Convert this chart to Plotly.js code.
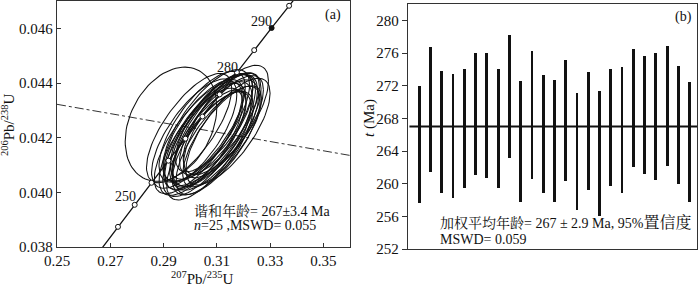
<!DOCTYPE html>
<html><head><meta charset="utf-8">
<script src="https://cdn.plot.ly/plotly-3.0.1.min.js"></script>
<style>html,body{margin:0;padding:0;background:#fff}</style>
</head><body>
<div id="chart" style="width:700px;height:287px"></div>
<script>
// ---- Panel (a): concordia data (one error ellipse per analysis) ----
const ellipseCx  = [0.2928, 0.2996, 0.3070, 0.3134, 0.3142, 0.3030, 0.3050, 0.3065, 0.3080, 0.3095, 0.3110, 0.3040, 0.3060, 0.3085, 0.3100, 0.3120, 0.3015, 0.3075, 0.3090, 0.3055, 0.3105, 0.3125, 0.3045, 0.3070, 0.3088];
const ellipseCy  = [0.04249, 0.04235, 0.04170, 0.04265, 0.04222, 0.04200, 0.04225, 0.04195, 0.04240, 0.04210, 0.04250, 0.04185, 0.04245, 0.04180, 0.04230, 0.04205, 0.04215, 0.04220, 0.04255, 0.04205, 0.04190, 0.04240, 0.04240, 0.04200, 0.04225];
const ellipseSx  = [0.0172, 0.0160, 0.0158, 0.0160, 0.0158, 0.0165, 0.0150, 0.0168, 0.0155, 0.0162, 0.0150, 0.0157, 0.0163, 0.0152, 0.0166, 0.0148, 0.0160, 0.0170, 0.0145, 0.0155, 0.0158, 0.0150, 0.0162, 0.0140, 0.0165];
const ellipseSy  = [0.00209, 0.00200, 0.00198, 0.00200, 0.00195, 0.00205, 0.00188, 0.00210, 0.00192, 0.00202, 0.00186, 0.00196, 0.00204, 0.00190, 0.00208, 0.00185, 0.00200, 0.00212, 0.00180, 0.00194, 0.00198, 0.00187, 0.00203, 0.00175, 0.00206];
const ellipseRho = [0.30, 0.72, 0.73, 0.71, 0.72, 0.74, 0.70, 0.73, 0.72, 0.71, 0.74, 0.72, 0.73, 0.70, 0.72, 0.74, 0.71, 0.73, 0.72, 0.70, 0.74, 0.72, 0.71, 0.73, 0.72];

const concordiaAges = [235, 240, 245, 250, 255, 260, 265, 270, 275, 280, 285, 290, 295, 300, 305];
const markerAges    = [245, 250, 255, 260, 265, 270, 275, 280, 285, 295];
const filledAges    = [290];
const labeledAges   = [250, 280, 290];

const discordiaX = [0.25, 0.36];
const discordiaY = [0.04322, 0.04135];

const xTicksA = [0.25, 0.27, 0.29, 0.31, 0.33, 0.35];
const yTicksA = [0.038, 0.040, 0.042, 0.044, 0.046];

// ---- Panel (b): weighted mean data ----
const spotIndex = [1,2,3,4,5,6,7,8,9,10,11,12,13,14,15,16,17,18,19,20,21,22,23,24,25];
const ageHigh = [272.0, 276.7, 273.8, 273.4, 274.0, 276.0, 276.0, 274.0, 278.2, 272.6, 276.2, 273.3, 272.7, 275.1, 271.1, 273.7, 271.3, 274.1, 274.3, 276.5, 275.6, 276.0, 276.8, 274.4, 272.5];
const ageLow  = [257.6, 261.4, 258.9, 258.2, 259.5, 261.1, 260.7, 259.5, 263.2, 257.7, 260.6, 258.9, 257.8, 260.3, 256.8, 259.2, 256.1, 259.7, 258.8, 262.0, 261.2, 260.5, 262.2, 259.9, 257.8];
const weightedMean = 267;
const yTicksB = [252, 256, 260, 264, 268, 272, 276, 280];

// ---- helpers ----
const L238 = 1.55125e-10, L235 = 9.8485e-10;
const r207 = t => Math.exp(L235 * t * 1e6) - 1;
const r206 = t => Math.exp(L238 * t * 1e6) - 1;

const FONT = "'Liberation Serif', 'Times New Roman', 'Noto Serif CJK SC', 'Noto Sans CJK SC', serif";
const INK = '#111';

// ellipse outlines
const ex = [], ey = [];
for (let k = 0; k < ellipseCx.length; k++) {
  const s = Math.sqrt(1 - ellipseRho[k] * ellipseRho[k]);
  for (let i = 0; i <= 90; i++) {
    const th = 2 * Math.PI * i / 90;
    ex.push(ellipseCx[k] + ellipseSx[k] * Math.cos(th));
    ey.push(ellipseCy[k] + ellipseSy[k] * (ellipseRho[k] * Math.cos(th) + s * Math.sin(th)));
  }
  ex.push(null); ey.push(null);
}

const traces = [
  { type: 'scatter', mode: 'lines', x: discordiaX, y: discordiaY, xaxis: 'x', yaxis: 'y',
    line: { color: '#333', width: 1, dash: 'dashdot' }, hoverinfo: 'skip' },
  { type: 'scatter', mode: 'lines', x: ex, y: ey, xaxis: 'x', yaxis: 'y',
    line: { color: INK, width: 1.05 }, hoverinfo: 'skip' },
  { type: 'scatter', mode: 'lines', x: concordiaAges.map(r207), y: concordiaAges.map(r206), xaxis: 'x', yaxis: 'y',
    line: { color: INK, width: 1.3 }, hoverinfo: 'skip' },
  { type: 'scatter', mode: 'markers', x: markerAges.map(r207), y: markerAges.map(r206), xaxis: 'x', yaxis: 'y',
    marker: { symbol: 'circle', size: 5, color: '#fff', line: { color: INK, width: 1 } }, hoverinfo: 'skip' },
  { type: 'scatter', mode: 'markers', x: filledAges.map(r207), y: filledAges.map(r206), xaxis: 'x', yaxis: 'y',
    marker: { symbol: 'circle', size: 5, color: INK, line: { color: INK, width: 1 } }, hoverinfo: 'skip' },
  { type: 'bar', x: spotIndex, y: ageHigh.map((h, i) => h - ageLow[i]), base: ageLow, xaxis: 'x2', yaxis: 'y2',
    width: 0.25, marker: { color: INK, line: { width: 0 } }, hoverinfo: 'skip' }
];

const labelOffsets = { 250: [-9, 8], 280: [-9, 5], 290: [-10, 6.5] };
const annotations = labeledAges.map(a => ({
  x: r207(a), y: r206(a), xref: 'x', yref: 'y', text: String(a), showarrow: false,
  xanchor: 'center', yanchor: 'middle', xshift: labelOffsets[a][0], yshift: labelOffsets[a][1],
  font: { family: FONT, size: 14, color: INK }
}));

annotations.push(
  { xref: 'paper', yref: 'paper', x: 333/700, y: 1 - 15/287, text: '(a)', showarrow: false, xanchor: 'center', yanchor: 'middle', font: { family: FONT, size: 14, color: INK } },
  { xref: 'paper', yref: 'paper', x: 683/700, y: 1 - 17/287, text: '(b)', showarrow: false, xanchor: 'center', yanchor: 'middle', font: { family: FONT, size: 14, color: INK } },
  { xref: 'paper', yref: 'paper', x: 192/700, y: 1 - 211/287, text: '谐和年龄= 267±3.4 Ma', showarrow: false, xanchor: 'left', yanchor: 'middle', font: { family: FONT, size: 14, color: INK } },
  { xref: 'paper', yref: 'paper', x: 192/700, y: 1 - 225/287, text: '<i>n</i>=25 ,MSWD= 0.055', showarrow: false, xanchor: 'left', yanchor: 'middle', font: { family: FONT, size: 14, color: INK } },
  { xref: 'paper', yref: 'paper', x: 438/700, y: 1 - 223/287, text: '加权平均年龄= 267 ± 2.9 Ma, 95%<span style="font-size:16px">置信度</span>', showarrow: false, xanchor: 'left', yanchor: 'middle', font: { family: FONT, size: 14, color: INK } },
  { xref: 'paper', yref: 'paper', x: 438/700, y: 1 - 239/287, text: 'MSWD= 0.059', showarrow: false, xanchor: 'left', yanchor: 'middle', font: { family: FONT, size: 14, color: INK } },
  { xref: 'paper', yref: 'paper', x: 202/700, y: 1 - 278/287, text: '<sup>207</sup>Pb/<sup>235</sup>U', showarrow: false, xanchor: 'center', yanchor: 'middle', font: { family: FONT, size: 15, color: INK } },
  { xref: 'paper', yref: 'paper', x: 8/700, y: 1 - 125/287, text: '<sup>206</sup>Pb/<sup>238</sup>U', textangle: -90, showarrow: false, xanchor: 'center', yanchor: 'middle', font: { family: FONT, size: 15, color: INK } },
  { xref: 'paper', yref: 'paper', x: 370/700, y: 1 - 118/287, text: '<i>t</i> (Ma)', textangle: -90, showarrow: false, xanchor: 'center', yanchor: 'middle', font: { family: FONT, size: 15, color: INK } }
);

const axisBase = {
  showgrid: false, zeroline: false, showline: true, mirror: true,
  linecolor: '#333', linewidth: 1.2, tickcolor: '#333',
  tickfont: { family: FONT, size: 15, color: INK }
};

const layout = {
  width: 700, height: 287,
  margin: { l: 0, r: 0, t: 0, b: 0 },
  paper_bgcolor: '#fff', plot_bgcolor: '#fff',
  showlegend: false,
  xaxis: Object.assign({}, axisBase, { domain: [57/700, 350/700], range: [0.25, 0.36], tickvals: xTicksA, tickformat: '.2f', ticks: 'inside', ticklen: 4, anchor: 'y' }),
  yaxis: Object.assign({}, axisBase, { domain: [1 - 247/287, 1 - 1/287], range: [0.038, 0.047], tickvals: yTicksA, tickformat: '.3f', ticks: 'inside', ticklen: 4, anchor: 'x' }),
  xaxis2: Object.assign({}, axisBase, { domain: [408/700, 697/700], range: [0, 25.65], showticklabels: false, ticks: '', anchor: 'y2' }),
  yaxis2: Object.assign({}, axisBase, { domain: [1 - 249/287, 1 - 4/287], range: [252, 282], tickvals: yTicksB, ticks: 'outside', ticklen: 5, anchor: 'x2' }),
  shapes: [
    { type: 'line', xref: 'x2 domain', yref: 'y2', x0: 0.005, x1: 1, y0: weightedMean, y1: weightedMean, line: { color: INK, width: 2 } }
  ],
  annotations: annotations,
  bargap: 0
};

Plotly.newPlot('chart', traces, layout, { staticPlot: true, displayModeBar: false });
</script>
</body></html>
